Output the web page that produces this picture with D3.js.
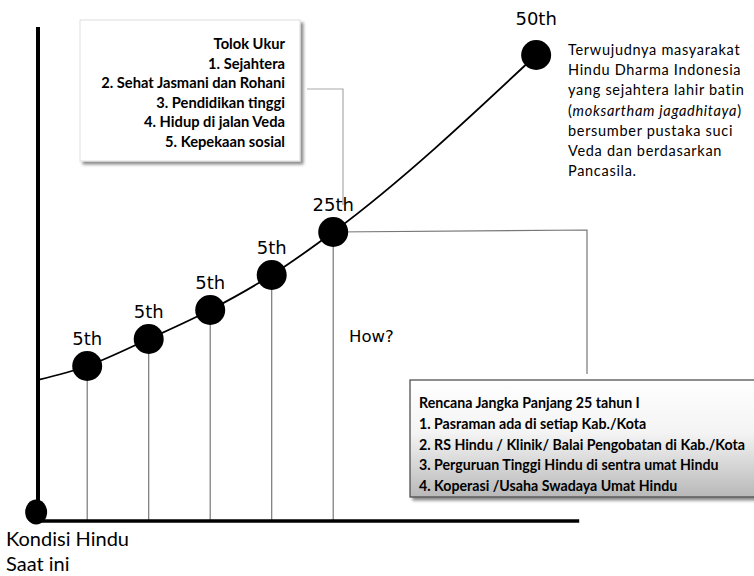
<!DOCTYPE html>
<html>
<head>
<meta charset="utf-8">
<script src="https://cdn.jsdelivr.net/npm/d3@7"></script>
<style>
  html, body { margin: 0; padding: 0; background: #fff; }
  svg { display: block; }
</style>
</head>
<body>
<div id="chart"></div>
<script>
// stages along the road map
const stageLabels = ["5th", "5th", "5th", "5th", "25th", "50th"];
const stageX = [0.8, 1.8, 2.8, 3.8, 4.8, 8.1];
const stageY = [3.1, 3.64, 4.22, 4.92, 5.78, 9.32];

// curve starting level (Kondisi saat ini)
const startPoint = { x: 0, y: 2.82 };
const originPoint = { x: -0.03, y: 0.18 };

const tolokUkur = [
    "Tolok Ukur",
    "1. Sejahtera",
    "2. Sehat Jasmani dan Rohani",
    "3. Pendidikan tinggi",
    "4. Hidup di jalan Veda",
    "5. Kepekaan sosial"
];

const rencana = [
    "Rencana Jangka Panjang 25 tahun I",
    "1. Pasraman ada di setiap  Kab./Kota",
    "2. RS Hindu / Klinik/ Balai  Pengobatan di Kab./Kota",
    "3. Perguruan Tinggi Hindu di sentra umat Hindu",
    "4. Koperasi /Usaha Swadaya Umat Hindu"
];

const visi = [
    "Terwujudnya masyarakat",
    "Hindu Dharma Indonesia",
    "yang  sejahtera lahir batin",
    "(moksartham jagadhitaya)",
    "bersumber pustaka suci",
    "Veda dan berdasarkan",
    "Pancasila."
];

const width = 754, height = 576;
const calibri = "Lato, 'Open Sans', sans-serif";

const x = d3.scaleLinear().domain([0, 10]).range([38, 653]);
const y = d3.scaleLinear().domain([0, 10]).range([521, 21]);

const points = stageX.map((v, i) => ({ x: v, y: stageY[i], label: stageLabels[i] }));

const svg = d3.select("#chart").append("svg")
    .attr("width", width)
    .attr("height", height);

const defs = svg.append("defs");
const shadow = defs.append("filter").attr("id", "shadow")
    .attr("x", "-5%").attr("y", "-5%").attr("width", "115%").attr("height", "120%");
shadow.append("feDropShadow")
    .attr("dx", 3).attr("dy", 3).attr("stdDeviation", 1.5)
    .attr("flood-color", "#000").attr("flood-opacity", 0.45);

const grad = defs.append("linearGradient").attr("id", "boxGrad")
    .attr("x1", 0).attr("y1", 0).attr("x2", 0).attr("y2", 1);
grad.append("stop").attr("offset", "0%").attr("stop-color", "#ffffff");
grad.append("stop").attr("offset", "45%").attr("stop-color", "#f4f4f4");
grad.append("stop").attr("offset", "100%").attr("stop-color", "#b8b8b8");

// drop lines from each stage to the baseline
svg.append("g")
    .selectAll("line")
    .data(points.slice(0, 5))
    .enter().append("line")
    .attr("x1", d => x(d.x)).attr("x2", d => x(d.x))
    .attr("y1", d => y(d.y)).attr("y2", y(0))
    .attr("stroke", "#777")
    .attr("stroke-width", 1.2);

// connectors
const p25 = points[4];
svg.append("path")
    .attr("d", `M${x(p25.x)},${y(p25.y)}L587,${y(p25.y) - 2}L587,374`)
    .attr("fill", "none").attr("stroke", "#777").attr("stroke-width", 1.2);
svg.append("path")
    .attr("d", `M307,89L343,89L343,205`)
    .attr("fill", "none").attr("stroke", "#aaa").attr("stroke-width", 1.2);

// axes
const xAxis = d3.axisBottom(x).tickValues([]).tickSizeOuter(0);
svg.append("g")
    .attr("transform", `translate(0,${y(0)})`)
    .call(xAxis)
    .call(g => g.select(".domain")
        .attr("d", `M${x(0)},0H${x(8.8)}`)
        .attr("stroke", "#000").attr("stroke-width", 3.5));

const yAxis = d3.axisLeft(y).tickValues([]).tickSizeOuter(0);
svg.append("g")
    .attr("transform", `translate(${x(0)},0)`)
    .call(yAxis)
    .call(g => g.select(".domain")
        .attr("d", `M0,${y(0)}V${y(9.88)}`)
        .attr("stroke", "#000").attr("stroke-width", 4));

// growth curve
const line = d3.line()
    .x(d => x(d.x))
    .y(d => y(d.y))
    .curve(d3.curveMonotoneX);

svg.append("path")
    .datum([startPoint].concat(points))
    .attr("d", line)
    .attr("fill", "none")
    .attr("stroke", "#000")
    .attr("stroke-width", 1.8);

// origin marker
svg.append("ellipse")
    .attr("cx", x(originPoint.x)).attr("cy", y(originPoint.y))
    .attr("rx", 11).attr("ry", 12.5)
    .attr("fill", "#000");

// stage dots
svg.append("g")
    .selectAll("circle")
    .data(points)
    .enter().append("circle")
    .attr("cx", d => x(d.x))
    .attr("cy", d => y(d.y))
    .attr("r", 15)
    .attr("fill", "#000");

svg.append("g")
    .selectAll("text")
    .data(points)
    .enter().append("text")
    .attr("x", d => x(d.x))
    .attr("y", (d, i) => y(d.y) - (i === points.length - 1 ? 30 : 21))
    .attr("text-anchor", "middle")
    .attr("font-family", "'DejaVu Sans', sans-serif")
    .attr("font-size", "18px")
    .attr("fill", "#000")
    .text(d => d.label);

svg.append("text")
    .attr("x", 349).attr("y", 342)
    .attr("font-family", "'DejaVu Sans', sans-serif")
    .attr("font-size", "16.5px")
    .text("How?");

// Tolok Ukur box
svg.append("rect")
    .attr("x", 80).attr("y", 20).attr("width", 220).attr("height", 141)
    .attr("fill", "#fff").attr("stroke", "#ddd").attr("stroke-width", 1)
    .attr("filter", "url(#shadow)");
svg.append("g")
    .selectAll("text")
    .data(tolokUkur)
    .enter().append("text")
    .attr("x", 285)
    .attr("y", (d, i) => 49 + i * 19.6)
    .attr("text-anchor", "end")
    .attr("font-family", calibri)
    .attr("font-weight", "bold")
    .attr("font-size", "14.7px")
    .text(d => d);

// Rencana box
svg.append("rect")
    .attr("x", 410).attr("y", 380).attr("width", 360).attr("height", 117)
    .attr("fill", "url(#boxGrad)").attr("stroke", "#444").attr("stroke-width", 1.2)
    .attr("filter", "url(#shadow)");
svg.append("g")
    .selectAll("text")
    .data(rencana)
    .enter().append("text")
    .attr("x", 419)
    .attr("y", (d, i) => 408 + i * 20.8)
    .attr("font-family", calibri)
    .attr("font-weight", "bold")
    .attr("font-size", "14.2px")
    .text(d => d);

// vision text
const visiText = svg.append("g")
    .selectAll("text")
    .data(visi)
    .enter().append("text")
    .attr("x", 568)
    .attr("y", (d, i) => 55 + i * 20.2)
    .attr("font-family", calibri)
    .attr("font-size", "14.5px")
    .attr("letter-spacing", "0.7px")
    .attr("fill", "#000");
visiText.each(function (d) {
    const t = d3.select(this);
    if (d.startsWith("(")) {
        t.append("tspan").text("(");
        t.append("tspan").attr("font-style", "italic").text(d.slice(1, -1));
        t.append("tspan").text(")");
    } else {
        t.text(d);
    }
});

// current condition label
svg.append("g")
    .selectAll("text")
    .data(["Kondisi Hindu", "Saat ini"])
    .enter().append("text")
    .attr("x", 6)
    .attr("y", (d, i) => 546 + i * 25)
    .attr("font-family", calibri)
    .attr("font-size", "20px")
    .text(d => d);
</script>
</body>
</html>
